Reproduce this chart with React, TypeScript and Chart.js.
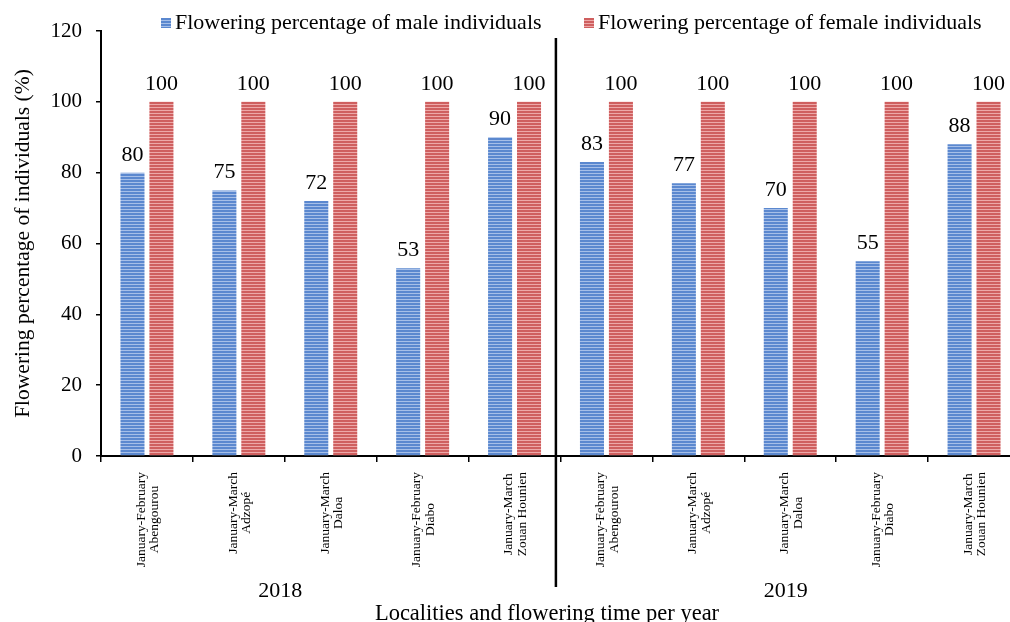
import React, { useEffect, useRef } from "react";
import { Chart, registerables } from "chart.js";

Chart.register(...registerables);

const FONT = "'Times New Roman', 'Liberation Serif', serif";

const categories: string[][] = [
  ["January-February", "Abengourou"],
  ["January-March", "Adzopé"],
  ["January-March", "Daloa"],
  ["January-February", "Diabo"],
  ["January-March", "Zouan Hounien"],
  ["January-February", "Abengourou"],
  ["January-March", "Adzopé"],
  ["January-March", "Daloa"],
  ["January-February", "Diabo"],
  ["January-March", "Zouan Hounien"],
];
const maleValues = [80, 75, 72, 53, 90, 83, 77, 70, 55, 88];
const femaleValues = [100, 100, 100, 100, 100, 100, 100, 100, 100, 100];
const seriesNames = [
  "Flowering percentage of male individuals",
  "Flowering percentage of female individuals",
];
const yearLabels = ["2018", "2019"];
const yearPositions = [1.45, 6.95];
const separatorPosition = 4.45;
const yMin = 0;
const yMax = 120;
const yStep = 20;
const xTitle = "Localities and flowering time per year";
const yTitle = "Flowering percentage of individuals (%)";

function makePattern(base: string, light: string): CanvasPattern | string {
  const c = document.createElement("canvas");
  c.width = 4;
  c.height = 3;
  const g = c.getContext("2d");
  if (!g) return base;
  g.fillStyle = base;
  g.fillRect(0, 0, 4, 3);
  g.fillStyle = light;
  g.fillRect(0, 2, 4, 1);
  const p = g.createPattern(c, "repeat");
  return p || base;
}

export default function App() {
  const ref = useRef<HTMLCanvasElement | null>(null);

  useEffect(() => {
    if (!ref.current) return;
    const bluePat = makePattern("#5b88cf", "#a6bfe8");
    const redPat = makePattern("#cf5f5f", "#eda8a8");
    const fills = [bluePat, redPat];

    const overlay = {
      id: "overlay",
      afterDatasetsDraw(chart: any) {
        const ctx = chart.ctx;
        ctx.save();
        ctx.fillStyle = "#000";
        ctx.font = `22px ${FONT}`;
        ctx.textAlign = "center";
        ctx.textBaseline = "alphabetic";
        chart.data.datasets.forEach((ds: any, di: number) => {
          const meta = chart.getDatasetMeta(di);
          meta.data.forEach((bar: any, i: number) => {
            ctx.fillText(String(ds.data[i]), bar.x, bar.y - 12);
          });
        });
        ctx.restore();
      },
      afterDraw(chart: any) {
        const ctx = chart.ctx;
        const xs = chart.scales.x;
        const area = chart.chartArea;
        ctx.save();
        ctx.fillStyle = "#000";
        // category labels (rotated, lines centred on each other)
        ctx.font = `13.5px ${FONT}`;
        categories.forEach((lines, i) => {
          const px = xs.getPixelForValue(i) + 1;
          const w = Math.max(...lines.map((l) => ctx.measureText(l).width));
          const cy = area.bottom + 16 + w / 2;
          ctx.save();
          ctx.translate(px, cy);
          ctx.rotate(-Math.PI / 2);
          ctx.textAlign = "center";
          ctx.textBaseline = "middle";
          const lh = 13.5;
          lines.forEach((l, j) => {
            ctx.fillText(l, 0, (j - (lines.length - 1) / 2) * lh);
          });
          ctx.restore();
        });
        // year labels
        ctx.font = `22px ${FONT}`;
        ctx.textAlign = "center";
        ctx.textBaseline = "middle";
        yearLabels.forEach((t, i) => {
          ctx.fillText(t, xs.getPixelForValue(yearPositions[i]), 591);
        });
        // x axis title
        ctx.font = `22.5px ${FONT}`;
        ctx.textBaseline = "alphabetic";
        ctx.fillText(xTitle, 547, 620);
        // separator
        const sx = xs.getPixelForValue(separatorPosition);
        ctx.strokeStyle = "#000";
        ctx.lineWidth = 2.5;
        ctx.beginPath();
        ctx.moveTo(sx, 38);
        ctx.lineTo(sx, 587);
        ctx.stroke();
        // legend
        ctx.font = `22px ${FONT}`;
        ctx.textAlign = "left";
        ctx.textBaseline = "middle";
        const legendX = [161, 584];
        seriesNames.forEach((name, i) => {
          ctx.fillStyle = fills[i] as any;
          ctx.fillRect(legendX[i], 18, 10, 10);
          ctx.fillStyle = "#000";
          ctx.fillText(name, legendX[i] + 14, 23);
        });
        ctx.restore();
      },
    };

    const chart = new Chart(ref.current, {
      type: "bar",
      data: {
        labels: categories.map((c) => c.join(" ")),
        datasets: [
          {
            label: seriesNames[0],
            data: maleValues,
            backgroundColor: bluePat as any,
            borderWidth: 0,
            categoryPercentage: 0.63,
            barPercentage: 0.83,
          },
          {
            label: seriesNames[1],
            data: femaleValues,
            backgroundColor: redPat as any,
            borderWidth: 0,
            categoryPercentage: 0.63,
            barPercentage: 0.83,
          },
        ],
      },
      options: {
        responsive: false,
        animation: false,
        layout: { padding: { left: 0, right: 20, top: 31, bottom: 0 } },
        plugins: {
          legend: { display: false },
          tooltip: { enabled: false },
        },
        scales: {
          x: {
            ticks: { display: false },
            grid: {
              drawOnChartArea: false,
              color: "#000",
              tickLength: 6,
              lineWidth: 1.5,
              offset: true,
            },
            border: { color: "#000", width: 2 },
            afterFit(scale: any) {
              scale.height = 166;
            },
          },
          y: {
            min: yMin,
            max: yMax,
            ticks: {
              stepSize: yStep,
              color: "#000",
              font: { family: FONT, size: 21 },
              padding: 14,
            },
            grid: {
              drawOnChartArea: false,
              color: "#000",
              tickLength: 5,
              lineWidth: 1.5,
            },
            border: { color: "#000", width: 2 },
            title: {
              display: true,
              text: yTitle,
              color: "#000",
              font: { family: FONT, size: 21.5 },
              padding: { top: 10, bottom: 0 },
            },
            afterFit(scale: any) {
              scale.width = 101;
            },
          },
        },
      },
      plugins: [overlay],
    });
    return () => chart.destroy();
  }, []);

  return (
    <div
      style={{
        position: "fixed",
        left: 0,
        top: 0,
        width: 1010,
        height: 622,
        overflow: "hidden",
        background: "#fff",
      }}
    >
      <canvas ref={ref} width={1040} height={622} style={{ display: "block" }} />
    </div>
  );
}
